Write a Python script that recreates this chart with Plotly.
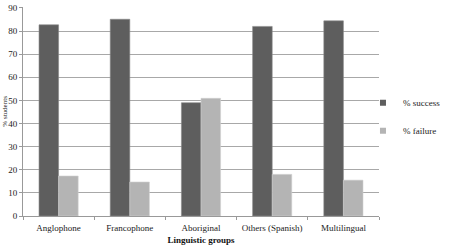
import plotly.graph_objects as go

categories = ["Anglophone", "Francophone", "Aboriginal", "Others (Spanish)", "Multilingual"]
success = [82.7, 85.1, 49.0, 82.0, 84.4]
failure = [17.3, 14.7, 50.9, 18.0, 15.5]
y_ticks = [0, 10, 20, 30, 40, 50, 60, 70, 80, 90]
series_names = ["% success", "% failure"]
series_colors = ["#5e5e5e", "#b4b4b4"]

FONT = "Liberation Serif, Times New Roman, serif"

fig = go.Figure()
for vals, name, col, edge in [(success, series_names[0], series_colors[0], "#8a8a8a"),
                              (failure, series_names[1], series_colors[1], "#d0d0d0")]:
    fig.add_trace(go.Bar(x=categories, y=vals, name=name, showlegend=False,
                         marker=dict(color=col, line=dict(color=edge, width=0.6))))
# legend entries with small square markers
for i, (name, col) in enumerate(zip(series_names, series_colors)):
    fig.add_trace(go.Scatter(x=[None], y=[None], mode="markers", name=name,
                             marker=dict(symbol="square", size=6, color=col),
                             legendgroup=str(i)))

fig.update_layout(
    width=454, height=248,
    margin=dict(l=23, r=75, t=3, b=32),
    paper_bgcolor="white", plot_bgcolor="white",
    font=dict(family=FONT, size=9, color="#222222"),
    barmode="group", bargap=0.45, bargroupgap=0,
    showlegend=True,
    legend=dict(x=0.955, y=0.475, xanchor="left", yanchor="middle",
                font=dict(size=9, family=FONT, color="#222222"),
                tracegroupgap=9, itemwidth=30, bgcolor="rgba(0,0,0,0)",
                traceorder="grouped"),
    xaxis=dict(tickson="boundaries", ticks="outside", ticklen=3, tickcolor="#999999",
               showline=True, linecolor="#999999", linewidth=1,
               tickfont=dict(size=9, family=FONT, color="#222222"),
               ticklabelstandoff=3,
               title=dict(text="<b>Linguistic groups</b>", font=dict(size=9, family=FONT, color="#111111"), standoff=4)),
    yaxis=dict(range=[0, 90.4], tickvals=y_ticks, ticks="outside", ticklen=3, tickcolor="#999999",
               showline=True, linecolor="#999999", linewidth=1,
               showgrid=True, gridcolor="#a8a8a8", gridwidth=1, zeroline=False,
               ticklabeloverflow="allow",
               tickfont=dict(size=9, family=FONT, color="#222222")),
)
fig.add_annotation(text="% students", xref="paper", yref="paper", x=-0.053, y=0.5,
                   xanchor="center", yanchor="middle", textangle=-90, showarrow=False,
                   font=dict(size=7, family=FONT, color="#222222"))

fig.write_html("out.html")
